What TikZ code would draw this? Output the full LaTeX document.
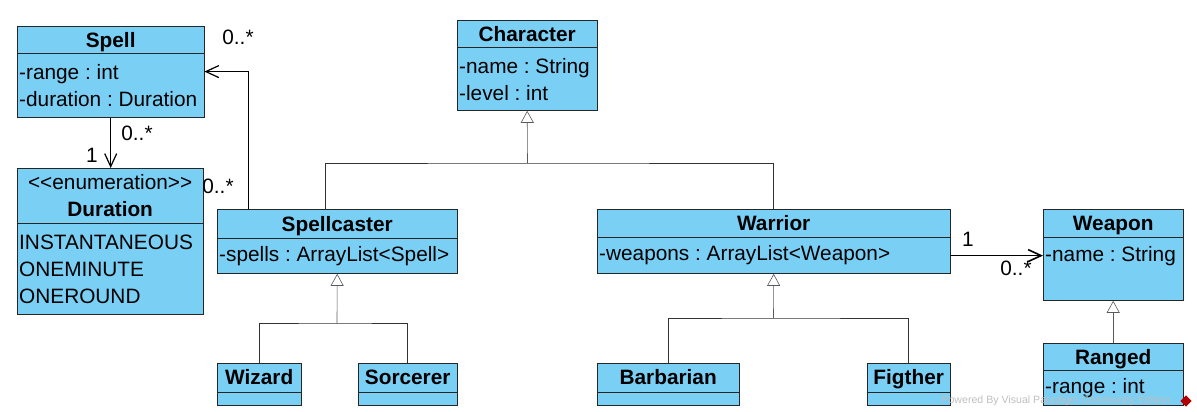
\documentclass[tikz,border=0pt]{standalone}
\usepackage{fontspec}
\setmainfont{Liberation Sans}
\usetikzlibrary{arrows.meta,positioning}
\definecolor{ClassBlue}{RGB}{122,207,245}
\definecolor{EdgeGray}{RGB}{90,90,90}

\begin{document}
\begin{tikzpicture}[
    x=1pt, y=-1pt,
    font=\fontsize{20.8}{27}\selectfont\frenchspacing,
    hdr/.style={draw=black!85, fill=ClassBlue, inner sep=0pt, anchor=north west, minimum height=27pt, text depth=0pt, font=\fontsize{20.8}{27}\selectfont\bfseries},
    att/.style={draw=black!85, fill=ClassBlue, inner xsep=2pt, inner ysep=0pt, align=flush left},
    mult/.style={inner sep=0pt},
    gen/.style={draw=EdgeGray, semithick, -{Triangle[length=12pt, width=13pt, fill=white]}},
    genline/.style={draw=black!80, semithick},
    assoc/.style={draw=black, line width=1.2pt, -{Straight Barb[length=13pt, width=12pt]}}
  ]
    \useasboundingbox (0,0) rectangle (1197,412);
    % classes
    \node[hdr, minimum width=187pt](spellhdr) at (17,26){Spell};
    \node[att, text width=183pt, minimum height=64pt, below=0pt of spellhdr](spellatt){-range : int\\-duration : Duration};
    \node[hdr, minimum width=186pt, minimum height=55pt, align=center, text depth=](durhdr) at (17,168){{\normalfont<\kern0pt<enumeration>\kern0pt>}\\Duration};
    \node[att, text width=182pt, minimum height=91pt, below=0pt of durhdr](duratt){INSTANTANEOUS\\ONEMINUTE\\ONEROUND};
    \node[hdr, minimum width=140pt](charhdr) at (457,20){Character};
    \node[att, text width=136pt, minimum height=63pt, below=0pt of charhdr](charatt){-name : String\\-level : int};
    \node[hdr, minimum width=240pt, minimum height=29pt](scasthdr) at (217,209){Spellcaster};
    \node[att, text width=236pt, minimum height=35pt, below=0pt of scasthdr](scastatt){-spells : ArrayList<Spell>};
    \node[hdr, minimum width=353pt, minimum height=28pt](warhdr) at (597,209){Warrior};
    \node[att, text width=349pt, minimum height=36pt, below=0pt of warhdr](waratt){-weapons : ArrayList<Weapon>};
    \node[hdr, minimum width=140pt, minimum height=28pt](weaponhdr) at (1043,209){Weapon};
    \node[att, text width=136pt, minimum height=63pt, text depth=30pt, below=0pt of weaponhdr](weaponatt){-name : String};
    \node[hdr, minimum width=140pt](rangedhdr) at (1043,343){Ranged};
    \node[att, text width=136pt, minimum height=35pt, below=0pt of rangedhdr](rangedatt){-range : int};
    \node[hdr, minimum width=84pt, minimum height=28.5pt](wizhdr) at (217,363){Wizard};
    \node[att, text width=80pt, minimum height=13pt, below=0pt of wizhdr](wizatt){};
    \node[hdr, minimum width=99pt, minimum height=28.5pt](sorchdr) at (358,363){Sorcerer};
    \node[att, text width=95pt, minimum height=13pt, below=0pt of sorchdr](sorcatt){};
    \node[hdr, minimum width=142pt, minimum height=28.5pt](barbhdr) at (597,363){Barbarian};
    \node[att, text width=138pt, minimum height=13pt, below=0pt of barbhdr](barbatt){};
    \node[hdr, minimum width=83pt, minimum height=28.5pt](fighdr) at (867,363){Figther};
    \node[att, text width=79pt, minimum height=13pt, below=0pt of fighdr](figatt){};
    % generalizations
    \coordinate (charjoin) at (527.5,163);
    \coordinate (scjoin) at (337,323);
    \coordinate (warjoin) at (773.5,318);
    \draw[genline]([xshift=-12pt]scasthdr.north) |- (charjoin) -| (warhdr.north);
    \draw[gen](charjoin) -- (charatt.south);
    \draw[genline](wizhdr.north) |- (scjoin) -| (sorchdr.north);
    \draw[gen](scjoin) -- (scastatt.south);
    \draw[genline](barbhdr.north) |- (warjoin) -| (fighdr.north);
    \draw[gen](warjoin) -- (waratt.south);
    \draw[gen](rangedhdr.north) -- (weaponatt.south);
    % associations
    \draw[assoc](spellatt.south) -- (spellatt.south |- durhdr.north);
    \node[mult](m1) at (137,133){0..*};
    \node[mult](m2) at (92,155){1};
    \draw[assoc]([xshift=-88.5pt]scasthdr.north) |- ([yshift=14pt]spellatt.east);
    \node[mult](m3) at (238,37){0..*};
    \node[mult](m4) at (218,186){0..*};
    \draw[assoc, line width=1.6pt](waratt.east) -- (waratt.east -| weaponatt.west);
    \node[mult](m5) at (968,239){1};
    \node[mult](m6) at (1016,268){0..*};
    % watermark
    \node[font=\fontsize{10.6}{10}\selectfont, text=black!25, anchor=east](wm) at (1174,401){Powered By Visual Paradigm Community Edition};
    \node[fill=red!70!black, rotate=45, minimum size=8pt, inner sep=0pt](logo) at (1186,401){};
  \end{tikzpicture}
\end{document}
